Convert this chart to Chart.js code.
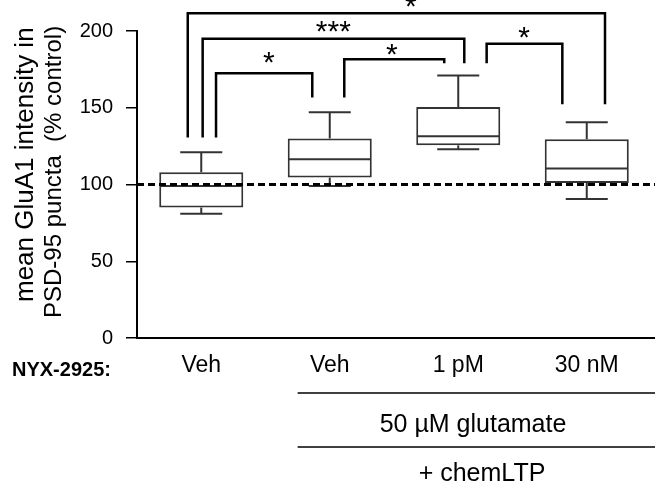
<!DOCTYPE html>
<html><head><meta charset="utf-8">
<script src="https://cdn.jsdelivr.net/npm/chart.js@4/dist/chart.umd.min.js"></script>
<style>html,body{margin:0;padding:0;background:#fff}#wrap{width:655px;height:483px}</style>
</head><body><div id="wrap"><canvas id="c" width="655" height="483"></canvas></div>
<script>
// ---- data ----
const categories = ['Veh', 'Veh', '1 pM', '30 nM'];
const whiskerLow = [81, 99, 123, 90.5];
const q1 = [85, 104.5, 125.5, 101];
const median = [99, 116.5, 131.5, 110.5];
const q3 = [108, 130, 150.5, 129.5];
const whiskerHigh = [121, 147, 171, 140.5];
const yTicks = [0, 50, 100, 150, 200];
const referenceLine = 100;
// significance brackets (x in category units, y in data units)
const bracketLabels = ['*', '***', '*', '*', '*'];
const bracketFrom = [-0.105, 0.011, 0.115, 1.113, 2.221];
const bracketTo = [3.142, 2.047, 0.864, 1.891, 2.810];
const bracketY = [211.5, 195, 172.5, 181.6, 191.7];
const bracketLeftEnd = [130.6, 130.6, 130.6, 156.6, 179];
const bracketRightEnd = [152.3, 179, 156.6, 179, 152.3];
const bracketLabelX = [1.632, 1.028, 0.525, 1.484, 2.512];
const bracketLabelY = [218.9, 202.8, 182.2, 187.6, 198.5];
const rowLabel = 'NYX-2925:';
const groupLabels = ['50 µM glutamate', '+ chemLTP'];
const groupStart = 0.75;
const yTitle = ['mean GluA1 intensity in', 'PSD-95 puncta  (% control)'];

const FONT = '"Liberation Sans", Arial, Helvetica, sans-serif';

const boxData = categories.map((c, i) => [q1[i], q3[i]]);

function seg(ctx, x1, y1, x2, y2) { ctx.beginPath(); ctx.moveTo(x1, y1); ctx.lineTo(x2, y2); ctx.stroke(); }

const annot = {
  id: 'annot',
  afterDatasetsDraw(chart) {
    const { ctx, chartArea: ca, scales: { x, y } } = chart;
    const meta = chart.getDatasetMeta(0);
    ctx.save();
    // whiskers + medians
    ctx.strokeStyle = '#333'; ctx.lineWidth = 2; ctx.lineCap = 'butt';
    meta.data.forEach((bar, i) => {
      const cx = bar.x, hw = bar.width / 2, cw = bar.width / 4;
      const yHi = y.getPixelForValue(whiskerHigh[i]);
      const yQ3 = y.getPixelForValue(q3[i]);
      const yQ1 = y.getPixelForValue(q1[i]);
      const yLo = y.getPixelForValue(whiskerLow[i]);
      const yMed = y.getPixelForValue(median[i]);
      seg(ctx, cx, yQ3, cx, yHi); seg(ctx, cx - cw, yHi, cx + cw, yHi);
      seg(ctx, cx, yQ1, cx, yLo); seg(ctx, cx - cw, yLo, cx + cw, yLo);
      seg(ctx, cx - hw + 1, yMed, cx + hw - 1, yMed);
    });
    // x axis line
    ctx.strokeStyle = '#000'; ctx.lineWidth = 2;
    seg(ctx, ca.left - 1, ca.bottom, chart.width, ca.bottom);
    // reference dashed line
    ctx.lineWidth = 3; ctx.setLineDash([7, 4]);
    const yr = y.getPixelForValue(referenceLine);
    seg(ctx, ca.left, yr, chart.width, yr);
    ctx.setLineDash([]);
    // brackets
    ctx.lineWidth = 2.5; ctx.lineJoin = 'miter';
    ctx.fillStyle = '#000';
    ctx.font = '30px ' + FONT; ctx.textAlign = 'center'; ctx.textBaseline = 'alphabetic';
    bracketLabels.forEach((lab, i) => {
      const xl = x.getPixelForValue(bracketFrom[i]), xr = x.getPixelForValue(bracketTo[i]);
      const yt = y.getPixelForValue(bracketY[i]);
      ctx.beginPath();
      ctx.moveTo(xl, y.getPixelForValue(bracketLeftEnd[i]));
      ctx.lineTo(xl, yt); ctx.lineTo(xr, yt);
      ctx.lineTo(xr, y.getPixelForValue(bracketRightEnd[i]));
      ctx.stroke();
      ctx.fillText(lab, x.getPixelForValue(bracketLabelX[i]), y.getPixelForValue(bracketLabelY[i]) + 14);
    });
    // row label
    ctx.font = 'bold 20px ' + FONT; ctx.textAlign = 'left';
    ctx.fillText(rowLabel, 12, 376);
    // group lines + labels
    const gx = x.getPixelForValue(groupStart);
    ctx.lineWidth = 1.5;
    seg(ctx, gx, 393, chart.width, 393);
    seg(ctx, gx, 447, chart.width, 447);
    ctx.font = '25px ' + FONT; ctx.textAlign = 'center';
    ctx.fillText(groupLabels[0], 473, 431.5);
    ctx.fillText(groupLabels[1], 482, 481);
    // y title
    ctx.textAlign = 'left';
    const starts = [[33, 302, 26], [61, 318, 24]];
    yTitle.forEach((t, i) => {
      ctx.font = starts[i][2] + 'px ' + FONT;
      ctx.save(); ctx.translate(starts[i][0], starts[i][1]); ctx.rotate(-Math.PI / 2);
      ctx.fillText(t, 0, 0); ctx.restore();
    });
    ctx.restore();
  }
};

new Chart(document.getElementById('c'), {
  type: 'bar',
  data: {
    labels: categories,
    datasets: [{
      data: boxData,
      backgroundColor: '#fff',
      borderColor: '#333',
      borderWidth: 2,
      borderSkipped: false,
      barPercentage: 0.654,
      categoryPercentage: 1
    }]
  },
  options: {
    responsive: false,
    animation: false,
    devicePixelRatio: 1,
    layout: { padding: { top: 31, right: 4, left: 0, bottom: 0 } },
    plugins: { legend: { display: false }, tooltip: { enabled: false } },
    scales: {
      x: {
        grid: { display: false, drawTicks: false },
        border: { display: false },
        ticks: { color: '#000', font: { family: FONT, size: 23 }, padding: 14, maxRotation: 0 },
        afterFit(s) { s.height = 145; }
      },
      y: {
        min: 0, max: 200,
        afterBuildTicks(s) { s.ticks = yTicks.map(v => ({ value: v })); },
        grid: { drawOnChartArea: false, drawTicks: true, tickLength: 11, color: '#000', lineWidth: 1.5 },
        border: { display: true, color: '#000', width: 2 },
        ticks: { color: '#000', font: { family: FONT, size: 20 }, padding: 13 },
        afterFit(s) { s.width = 137; }
      }
    }
  },
  plugins: [annot]
});
</script>
</body></html>
